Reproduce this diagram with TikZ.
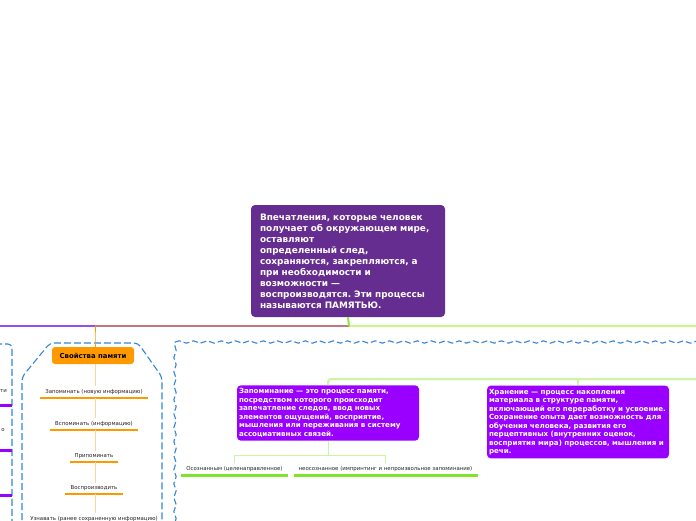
\documentclass[tikz,border=0pt]{standalone}
\usepackage{fontspec}
\setmainfont{DejaVu Sans}
\frenchspacing
\usetikzlibrary{decorations.pathmorphing}
\definecolor{mainfill}{HTML}{662D91}
\definecolor{violet}{HTML}{9A00FF}
\definecolor{orng}{HTML}{FF9900}
\definecolor{lorng}{HTML}{FFD49A}
\definecolor{tpurple}{HTML}{8F4FF7}
\definecolor{tbrown}{HTML}{C2767F}
\definecolor{tgreen}{HTML}{C8F783}
\definecolor{lgreen}{HTML}{CCF5A0}
\definecolor{bgreen}{HTML}{7FE52A}
\definecolor{bnd}{HTML}{3385DB}
\definecolor{itemtxt}{HTML}{222222}
\begin{document}
\begin{tikzpicture}[x=1pt,y=-1pt,
  mainbox/.style={fill=mainfill, rounded corners=4pt, text=white, align=left,
    font={\fontsize{8.9}{11}\selectfont\bfseries}, text width=176pt, inner xsep=9pt,
    minimum height=112pt},
  vbox/.style={fill=violet, rounded corners=4pt, text=white, align=left,
    font={\fontsize{7.1}{8.5}\selectfont\bfseries}, text width=178pt, inner xsep=2pt},
  propbox/.style={fill=orng, rounded corners=3pt, text=black,
    font={\fontsize{6.9}{8}\selectfont\bfseries}, minimum width=82pt, minimum height=17pt, inner sep=0pt},
  item/.style={text=itemtxt, font={\fontsize{5.4}{6.5}\selectfont}, inner xsep=5pt, inner ysep=3pt},
  ouline/.style={orng, line width=2.5pt},
  guline/.style={bgreen, line width=3pt},
  puline/.style={violet, line width=3pt},
  oconn/.style={lorng, line width=1pt},
  gconn/.style={lgreen, line width=1pt},
  gconnb/.style={lgreen, line width=2pt, rounded corners=3pt},
  topline/.style={line width=2pt},
  bndline/.style={bnd, line width=1.1pt, dash pattern=on 7pt off 3pt},
  wavy/.style={bnd, line width=1.1pt, dash pattern=on 6pt off 3pt, decorate,
    decoration={snake, segment length=14pt, amplitude=1.2pt}}
]
\useasboundingbox (0,0) rectangle (696,520);

% boundaries
\draw[bndline, rounded corners=4pt] (-5,344) -- (12,344) -- (12,530);
\draw[bndline, rounded corners=4pt] (22,530) -- (22,377) -- (50,343) -- (138,343) -- (162,377) -- (162,530);
\draw[wavy] (175,530) -- (175,342);
\draw[wavy] (175,342) -- (705,342);

% main node
\node[mainbox] (main) at (348,261) {Впечатления, которые человек\\
получает об окружающем мире,\\
оставляют\\
определенный след,\\
сохраняются, закрепляются, а\\
при необходимости и\\
возможности —\\
воспроизводятся. Эти процессы\\
называются ПАМЯТЬЮ.};

\coordinate (gT) at (700,326);
\coordinate (gL) at (-5,326);
\coordinate (hubR) at (349,326);

% properties node
\node[propbox] (prop) at (93,355.5) {Свойства памяти};
\coordinate (hubL) at (95,326);

\draw[topline, tgreen] (hubR) -- (gT);
\draw[topline, tbrown] (hubR) -- (hubL);
\draw[topline, tpurple] (hubL) -- (gL);
\draw[topline, bgreen!80!lgreen] (main.south) -- (hubR);
\draw[orng, line width=1pt, rounded corners=2pt] (hubL) -- (95,340) -- (prop.north -| 95,0);

% property items
\node[item, anchor=south] (i1) at (94,398) {Запоминать (новую информацию)};
\node[item, anchor=south] (i2) at (94,430) {Вспоминать (информацию)};
\node[item, anchor=south] (i3) at (94,462) {Припоминать};
\node[item, anchor=south] (i4) at (94,494) {Воспроизводить};
\node[item, anchor=south] (i5) at (94,525) {Узнавать (ранее сохраненную информацию)};
\foreach \n in {i1,i2,i3,i4} {\draw[ouline] (\n.south west) -- (\n.south east);}
\draw[oconn] (prop.south -| 95,0) -- (i1.north -| 95,0);
\draw[oconn] (i1.south -| 95,0) -- (i2.north -| 95,0);
\draw[oconn] (i2.south -| 95,0) -- (i3.north -| 95,0);
\draw[oconn] (i3.south -| 95,0) -- (i4.north -| 95,0);
\draw[oconn] (i4.south -| 95,0) -- (i5.north -| 95,0);

% left fragments
\node[item, anchor=east, inner xsep=0pt] (lf1) at (7,391) {ти};
\node[item, anchor=east, inner xsep=0pt] (lf2) at (5,430) {о};
\draw[puline] (-5,405) -- (12,405);
\draw[puline] (-5,450) -- (12,450);
\draw[puline] (-5,495) -- (12,495);

% right side
\node[vbox] (zap) at (328,413) {Запоминание — это процесс памяти,\\
посредством которого происходит\\
запечатление следов, ввод новых\\
элементов ощущений, восприятие,\\
мышления или переживания в систему\\
ассоциативных связей.};
\node[vbox, minimum height=72pt] (hran) at (578,422) {Хранение — процесс накопления\\
материала в структуре памяти,\\
включающий его переработку и усвоение.\\
Сохранение опыта дает возможность для\\
обучения человека, развития его\\
перцептивных (внутренних оценок,\\
восприятия мира) процессов, мышления и\\
речи.};
\coordinate (gR) at (700,379);
\draw[gconnb] (zap.north) |- (gR);
\draw[gconnb] (hran.north) -- (hran.north |- gR);

\node[item, anchor=south] (c1) at (234.5,475) {Осознанным (целенаправленное)};
\node[item, anchor=south] (c2) at (385.5,475) {неосознанное (импринтинг и непроизвольное запоминание)};
\draw[guline] (c1.south west) -- (c1.south east);
\draw[guline] (c2.south west) -- (c2.south east);
\draw[gconn] (zap.south) -- ++(0,15) -| (c1.north);
\draw[gconn] (zap.south) -- ++(0,15) -| (c2.north);
\end{tikzpicture}
\end{document}
